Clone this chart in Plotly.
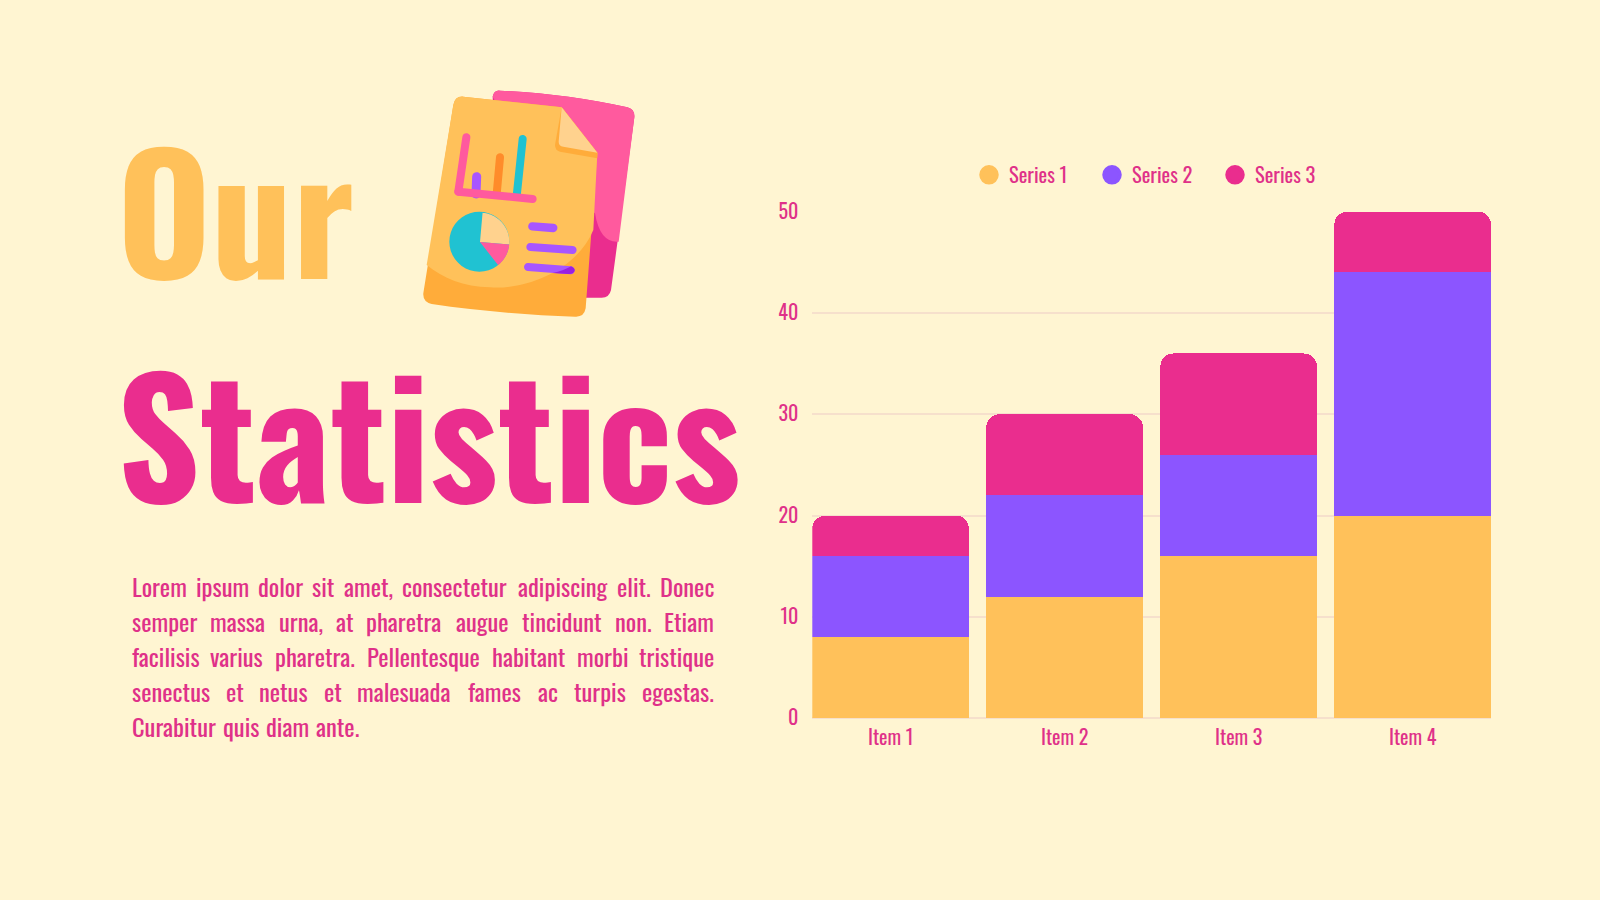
import math
import plotly.graph_objects as go

W = 1600
H = 900

BG = "#FFF5D2"
PINK = "#EA2D8E"
TEXT = "#DF3189"
ORANGE = "#FFC15A"
PURPLE = "#8C55FF"
GRID = "#F6E0CC"
FONT = "Oswald"

# chart data
items = ["Item 1", "Item 2", "Item 3", "Item 4"]
series_1 = [8, 12, 16, 20]
series_2 = [8, 10, 10, 24]
series_3 = [4, 8, 10, 6]
y_ticks = [0, 10, 20, 30, 40, 50]

# justified paragraph: one list of words and one of left edges per line
lines = [
    ["Lorem", "ipsum", "dolor", "sit", "amet,", "consectetur", "adipiscing", "elit.", "Donec"],
    ["semper", "massa", "urna,", "at", "pharetra", "augue", "tincidunt", "non.", "Etiam"],
    ["facilisis", "varius", "pharetra.", "Pellentesque", "habitant", "morbi", "tristique"],
    ["senectus", "et", "netus", "et", "malesuada", "fames", "ac", "turpis", "egestas."],
    ["Curabitur", "quis", "diam", "ante."],
]
line_x = [
    [132.3, 196, 258.7, 312.7, 344, 402.7, 518, 617.3, 660.7],
    [132.3, 210.3, 279, 336.7, 366.7, 456, 522, 615.3, 664.3],
    [132.3, 210.7, 275, 367.3, 492.3, 577, 639],
    [132.3, 226.3, 259.7, 324, 357.3, 468.7, 538.3, 574, 642],
    [132.3, 223.7, 266.7, 316.7],
]
line_y = [586, 621, 656, 691, 726]


# icon helpers, coordinates measured in a 3x crop whose corner is (400, 70)
def px(x, y):
    return f"{(400 + x / 3) / W:.5f},{1 - (70 + y / 3) / H:.5f}"


def path(d):
    out = []
    for tok in d.split():
        if "," in tok:
            x, y = tok.split(",")
            out.append(px(float(x), float(y)))
        else:
            out.append(tok)
    return " ".join(out)


def capsule(x0, y0, x1, y1, w):
    a = math.atan2(y1 - y0, x1 - x0)
    nx, ny = -math.sin(a) * w / 2, math.cos(a) * w / 2
    dx, dy = math.cos(a) * w * 0.66, math.sin(a) * w * 0.66
    return path(
        f"M {x0 + nx:.1f},{y0 + ny:.1f} L {x1 + nx:.1f},{y1 + ny:.1f} "
        f"C {x1 + nx + dx:.1f},{y1 + ny + dy:.1f} {x1 - nx + dx:.1f},{y1 - ny + dy:.1f} {x1 - nx:.1f},{y1 - ny:.1f} "
        f"L {x0 - nx:.1f},{y0 - ny:.1f} "
        f"C {x0 - nx - dx:.1f},{y0 - ny - dy:.1f} {x0 + nx - dx:.1f},{y0 + ny - dy:.1f} {x0 + nx:.1f},{y0 + ny:.1f} Z"
    )


def wedge(cx, cy, r, a0, a1):
    pts = [f"{cx},{cy}"]
    for i in range(41):
        a = math.radians(a0 + (a1 - a0) * i / 40)
        pts.append(f"{cx + r * math.cos(a):.1f},{cy + r * math.sin(a):.1f}")
    return path("M " + " L ".join(pts) + " Z")


FRONT = ("M 160,105 Q 165,78 190,80 L 485,112 L 592,248 L 557,715 Q 552,742 525,740 "
         "C 380,735 230,722 95,702 Q 68,695 70,670 Z")
icon = [
    (path("M 278,80 Q 282,60 300,62 C 430,68 560,85 682,112 Q 705,118 703,142 L 633,660 "
          "Q 628,683 605,683 L 300,683 Z"), "#EA2D8E"),
    (path("M 278,80 Q 282,60 300,62 C 430,68 560,85 682,112 Q 705,118 703,142 L 656,515 "
          "Q 600,520 585,430 L 400,300 Z"), "#FF5A9E"),
    (path(FRONT), "#FFAC3A"),
    (path("M 160,105 Q 165,78 190,80 L 485,112 L 592,248 L 580,480 C 530,600 380,660 270,652 "
          "C 190,650 130,625 80,585 Z"), "#FFC15A"),
    (path("M 485,112 L 465,225 Q 465,240 480,245 L 592,265 L 592,248 Z"), "#FFAC3A"),
    (path("M 485,112 L 476,215 Q 476,228 490,230 L 592,248 Z"), "#FFD28E"),
    (capsule(230, 320, 228, 372, 27), "#A855FF"),
    (capsule(300, 262, 290, 372, 24), "#FF8C2A"),
    (capsule(368, 207, 350, 378, 24), "#20C2D2"),
    (capsule(199, 202, 175, 365, 24), "#FF5A9E"),
    (capsule(175, 365, 398, 387, 24), "#FF5A9E"),
    (wedge(238, 515, 90, 0, 360), "#20C2D2"),
    (wedge(240, 516, 88, -85, 5), "#FFD28E"),
    (wedge(240, 516, 88, 5, 52), "#FF5A9E"),
    (capsule(397, 469, 460, 474, 25), "#A855FF"),
    (capsule(391, 531, 518, 540, 24), "#A855FF"),
    (capsule(384, 591, 512, 601, 24), "#A855FF"),
    (path("M 458,609 Q 490,603 513,589 Q 526,595 524,603 Q 520,613 505,612 Z"), "#9A1FE0"),
]

fig = go.Figure()

# bars carry the data, the legend entries are circle markers
for name, values, color in [("Series 1", series_1, ORANGE), ("Series 2", series_2, PURPLE), ("Series 3", series_3, PINK)]:
    fig.add_trace(go.Bar(x=items, y=values, name=name, marker=dict(color=color, line=dict(width=0)), showlegend=False))
    fig.add_trace(go.Scatter(x=[None], y=[None], name=name, mode="markers",
                             marker=dict(color=color, size=16, symbol="circle", line=dict(color=color, width=3.5))))

fig.update_layout(
    width=W,
    height=H,
    margin=dict(l=0, r=0, t=0, b=0, autoexpand=False),
    paper_bgcolor=BG,
    plot_bgcolor=BG,
    barmode="stack",
    bargap=0.1,
    barcornerradius=13,
    font=dict(family=FONT, color=TEXT, size=20),
    showlegend=True,
    legend=dict(
        orientation="h",
        x=969 / W,
        y=1 - 175 / H,
        xanchor="left",
        yanchor="middle",
        bgcolor="rgba(0,0,0,0)",
        font=dict(family=FONT, size=20.5, color=TEXT),
        traceorder="normal",
        entrywidth=78,
        entrywidthmode="pixels",
    ),
    shapes=[dict(type="path", path=p, xref="paper", yref="paper", fillcolor=c, line=dict(width=0), layer="above") for p, c in icon],
)
fig.update_xaxes(
    automargin=False,
    domain=[812.3 / W, 1491 / W],
    range=[-0.45, 3.45],
    showgrid=False,
    zeroline=False,
    showline=False,
    ticks="",
    ticklabelstandoff=6,
    tickfont=dict(family=FONT, size=20, color=TEXT),
)
fig.update_yaxes(
    automargin=False,
    domain=[1 - 718.3 / H, 1 - 211.6 / H],
    range=[0, 50],
    tickvals=y_ticks,
    gridcolor=GRID,
    gridwidth=1.5,
    zeroline=True,
    zerolinecolor=GRID,
    zerolinewidth=1.5,
    ticks="",
    ticklabelstandoff=13,
    tickfont=dict(family=FONT, size=20, color=TEXT),
)

# big title
fig.add_annotation(text="Our", x=115 / W, y=1 - 206 / H, xref="paper", yref="paper", xanchor="left", yanchor="middle",
                   showarrow=False, font=dict(family=FONT, size=161, color=ORANGE, weight=700))
fig.add_annotation(text="Statistics", x=115 / W, y=1 - 430 / H, xref="paper", yref="paper", xanchor="left", yanchor="middle",
                   showarrow=False, font=dict(family=FONT, size=161, color=PINK, weight=700))

# paragraph, word by word so the lines stay justified
for words, xs, y in zip(lines, line_x, line_y):
    for word, x in zip(words, xs):
        fig.add_annotation(text=word, x=(x - 2.5) / W, y=1 - y / H, xref="paper", yref="paper", xanchor="left", yanchor="middle",
                           showarrow=False, font=dict(family=FONT, size=24.5, color=TEXT, weight=400))

fig.write_html("out.html", post_script="document.body.style.margin='0';", config={"displayModeBar": False})
